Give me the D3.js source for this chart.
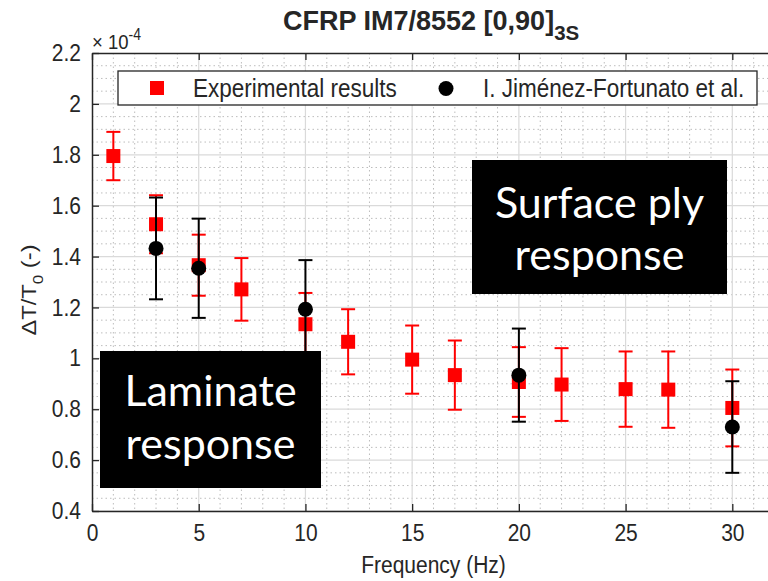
<!DOCTYPE html>
<html>
<head>
<meta charset="utf-8">
<script src="https://cdn.jsdelivr.net/npm/d3@7/dist/d3.min.js"></script>
<style>
  html, body { margin: 0; padding: 0; background: #ffffff; }
  svg { display: block; }
  .mat { font-family: "Liberation Sans", Arial, Helvetica, sans-serif; fill: #262626; }
  .note { font-family: Lato, "Open Sans", sans-serif; fill: #ffffff; }
</style>
</head>
<body>
<svg id="chart" width="768" height="581"></svg>
<script>
// Normalised temperature change ΔT/T0 (values in units of 1e-4) versus loading frequency
const expFreq = [1, 3, 5, 7, 10, 12, 15, 17, 20, 22, 25, 27, 30];
const expVal  = [1.795, 1.527, 1.366, 1.271, 1.134, 1.065, 0.995, 0.934, 0.907, 0.897, 0.879, 0.877, 0.805];
const expErr  = [0.095, 0.114, 0.120, 0.123, 0.123, 0.128, 0.134, 0.136, 0.137, 0.143, 0.148, 0.150, 0.151];

const refFreq = [3, 5, 10, 20, 30];
const refVal  = [1.432, 1.354, 1.193, 0.934, 0.730];
const refErr  = [0.200, 0.195, 0.193, 0.183, 0.180];

const xTicks = [0, 5, 10, 15, 20, 25, 30];
const yTicks = [0.4, 0.6, 0.8, 1.0, 1.2, 1.4, 1.6, 1.8, 2.0, 2.2];
const yExponent = -4;

const seriesNames = ["Experimental results", "I. Jiménez-Fortunato et al."];
const titleMain = "CFRP IM7/8552 [0,90]";
const titleSub = "3S";
const xLabel = "Frequency (Hz)";
const noteSurface = ["Surface ply", "response"];
const noteLaminate = ["Laminate", "response"];

const svg = d3.select("#chart");
const axisColor = "#262626";
const stretch = 1.13;   // glyphs in this figure are drawn slightly taller than wide

const plot = { left: 92, top: 53, right: 775, bottom: 511 };
const x = d3.scaleLinear().domain([0, 32]).range([plot.left, plot.right]);
const y = d3.scaleLinear().domain([0.4, 2.2]).range([plot.bottom, plot.top]);

// text placed at (tx, ty) and stretched vertically about its baseline
function tallText(parent, tx, ty, size) {
  return parent.append("text").attr("class", "mat")
    .attr("transform", `translate(${tx},${ty}) scale(1,${stretch})`)
    .style("font-size", size + "px");
}

svg.append("defs").append("clipPath").attr("id", "plotClip")
  .append("rect").attr("x", plot.left).attr("y", plot.top)
  .attr("width", plot.right - plot.left).attr("height", plot.bottom - plot.top);

const grid = svg.append("g").attr("clip-path", "url(#plotClip)");

// minor grid (dotted)
const xMinor = d3.range(0, 33, 1).filter(v => v % 5 !== 0);
const yMinor = d3.range(0.4, 2.2001, 0.05).filter(v => Math.abs(Math.round(v * 5) - v * 5) > 1e-6);
grid.selectAll(".xminor").data(xMinor).join("line")
  .attr("x1", d => x(d)).attr("x2", d => x(d))
  .attr("y1", plot.top).attr("y2", plot.bottom)
  .attr("stroke", "#bdbdbd").attr("stroke-width", 1).attr("stroke-dasharray", "1.5,3");
grid.selectAll(".yminor").data(yMinor).join("line")
  .attr("x1", plot.left).attr("x2", plot.right)
  .attr("y1", d => y(d)).attr("y2", d => y(d))
  .attr("stroke", "#bdbdbd").attr("stroke-width", 1).attr("stroke-dasharray", "1.5,3");

// major grid
grid.selectAll(".xmajor").data(xTicks).join("line")
  .attr("x1", d => x(d)).attr("x2", d => x(d))
  .attr("y1", plot.top).attr("y2", plot.bottom)
  .attr("stroke", "#dadada").attr("stroke-width", 1.2);
grid.selectAll(".ymajor").data(yTicks).join("line")
  .attr("x1", plot.left).attr("x2", plot.right)
  .attr("y1", d => y(d)).attr("y2", d => y(d))
  .attr("stroke", "#dadada").attr("stroke-width", 1.2);

// axes (box on, ticks pointing inward)
const fmt = d => (Math.abs(d - Math.round(d)) < 1e-9 ? d3.format("d")(d) : d3.format(".1f")(d));
const xAxisB = d3.axisBottom(x).tickValues(xTicks).tickSizeInner(-7).tickSizeOuter(0).tickPadding(13).tickFormat(fmt);
const xAxisT = d3.axisTop(x).tickValues(xTicks).tickSizeInner(-7).tickSizeOuter(0).tickFormat("");
const yAxisL = d3.axisLeft(y).tickValues(yTicks).tickSizeInner(-7).tickSizeOuter(0).tickPadding(11).tickFormat(fmt);

function styleAxis(g) {
  g.select(".domain").attr("stroke", axisColor).attr("stroke-width", 1.5);
  g.selectAll(".tick line").attr("stroke", axisColor).attr("stroke-width", 1.3);
  g.selectAll(".tick text").attr("fill", axisColor)
    .style("font-family", '"Liberation Sans", Arial, sans-serif').style("font-size", "21px")
    .each(function () {
      const t = d3.select(this);
      const tx = +t.attr("x") || 0, ty = +t.attr("y") || 0;
      t.attr("x", 0).attr("y", 0)
        .attr("transform", `translate(${tx},${ty}) scale(1,${stretch})`);
    });
}
svg.append("g").attr("transform", `translate(0,${plot.bottom})`).call(xAxisB).call(styleAxis);
svg.append("g").attr("transform", `translate(0,${plot.top})`).call(xAxisT).call(styleAxis);
svg.append("g").attr("transform", `translate(${plot.left},0)`).call(yAxisL).call(styleAxis);

// exponent label above the y axis
const expo = tallText(svg, plot.left, 49, 18.5);
expo.append("tspan").text("× 10");
expo.append("tspan").attr("dy", -8).style("font-size", "14px").text(String(yExponent));

// data series with error bars
const data = [
  { name: seriesNames[0], f: expFreq, v: expVal, e: expErr, color: "#ff0000", shape: "square" },
  { name: seriesNames[1], f: refFreq, v: refVal, e: refErr, color: "#000000", shape: "circle" }
];
const capHalf = 7;
const marks = svg.append("g").attr("clip-path", "url(#plotClip)");
data.forEach(s => {
  const pts = s.f.map((f, i) => ({ f, v: s.v[i], e: s.e[i] }));
  const g = marks.append("g");
  const bars = g.selectAll("g.bar").data(pts).join("g").attr("class", "bar");
  bars.append("line")
    .attr("x1", d => x(d.f)).attr("x2", d => x(d.f))
    .attr("y1", d => y(d.v - d.e)).attr("y2", d => y(d.v + d.e))
    .attr("stroke", s.color).attr("stroke-width", 2);
  bars.append("line")
    .attr("x1", d => x(d.f) - capHalf).attr("x2", d => x(d.f) + capHalf)
    .attr("y1", d => y(d.v + d.e)).attr("y2", d => y(d.v + d.e))
    .attr("stroke", s.color).attr("stroke-width", 2);
  bars.append("line")
    .attr("x1", d => x(d.f) - capHalf).attr("x2", d => x(d.f) + capHalf)
    .attr("y1", d => y(d.v - d.e)).attr("y2", d => y(d.v - d.e))
    .attr("stroke", s.color).attr("stroke-width", 2);
  if (s.shape === "square") {
    g.selectAll("rect.m").data(pts).join("rect").attr("class", "m")
      .attr("x", d => x(d.f) - 7).attr("y", d => y(d.v) - 7)
      .attr("width", 14).attr("height", 14).attr("fill", s.color);
  } else {
    g.selectAll("circle.m").data(pts).join("circle").attr("class", "m")
      .attr("cx", d => x(d.f)).attr("cy", d => y(d.v)).attr("r", 7.5).attr("fill", s.color);
  }
});

// legend
const lg = svg.append("g");
lg.append("rect").attr("x", 118).attr("y", 71).attr("width", 639).attr("height", 34)
  .attr("fill", "#ffffff").attr("stroke", axisColor).attr("stroke-width", 1.3);
lg.append("rect").attr("x", 150).attr("y", 81).attr("width", 14).attr("height", 14).attr("fill", data[0].color);
tallText(lg, 193, 97, 22.5).text(seriesNames[0]);
lg.append("circle").attr("cx", 446).attr("cy", 88.5).attr("r", 7.5).attr("fill", data[1].color);
tallText(lg, 483, 97, 22.5).text(seriesNames[1]);

// title with subscript
const title = svg.append("text").attr("class", "mat").attr("x", 283).attr("y", 30)
  .style("font-size", "27px").style("font-weight", "bold");
title.append("tspan").text(titleMain);
title.append("tspan").attr("dy", 10).style("font-size", "20.5px").text(titleSub);

// axis labels
tallText(svg, (plot.left + plot.right) / 2, 573, 21).attr("text-anchor", "middle").text(xLabel);
const yl = svg.append("text").attr("class", "mat")
  .attr("transform", `translate(36,290) rotate(-90) scale(${stretch},1)`)
  .attr("text-anchor", "middle").style("font-size", "21px");
yl.append("tspan").text("ΔT/T");
yl.append("tspan").attr("dy", 7).style("font-size", "15px").text("0");
yl.append("tspan").attr("dy", -7).text(" (-)");

// annotation boxes
function noteBox(x0, y0, w, h, lines, baseY, lineGap) {
  const g = svg.append("g");
  g.append("rect").attr("x", x0).attr("y", y0).attr("width", w).attr("height", h).attr("fill", "#000000");
  lines.forEach((t, i) => {
    g.append("text").attr("class", "note").attr("x", x0 + w / 2).attr("y", baseY + i * lineGap)
      .attr("text-anchor", "middle").style("font-size", "43px").text(t);
  });
}
noteBox(472, 160, 255, 134, noteSurface, 218, 52);
noteBox(100, 351, 221, 137, noteLaminate, 406, 53);
</script>
</body>
</html>
